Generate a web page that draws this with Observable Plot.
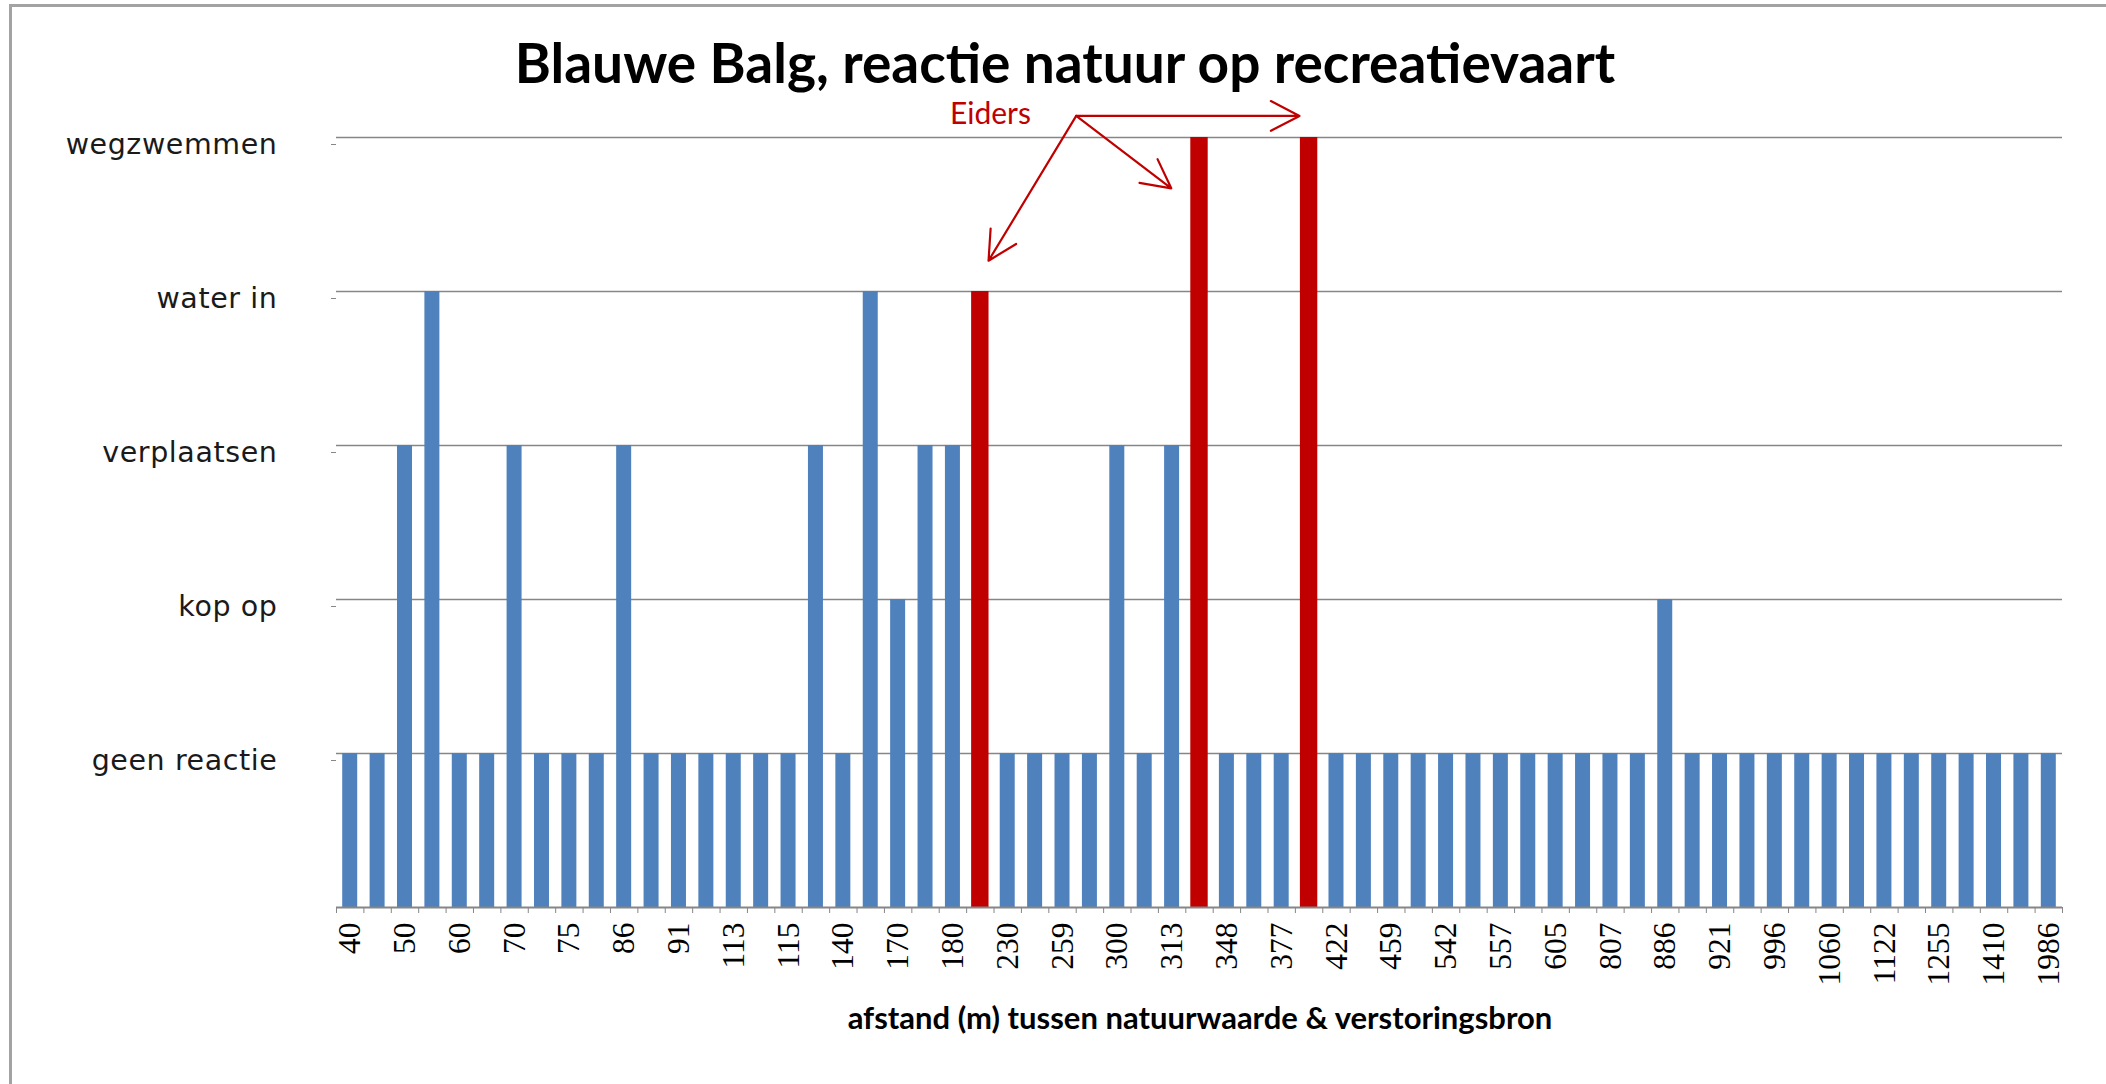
<!DOCTYPE html>
<html>
<head>
<meta charset="utf-8">
<script src="https://cdn.jsdelivr.net/npm/d3@7"></script>
<script src="https://cdn.jsdelivr.net/npm/@observablehq/plot@0.6"></script>
<style>
  html, body { margin: 0; padding: 0; background: #fff; overflow: hidden; }
  #wrap { position: relative; width: 2106px; height: 1084px; overflow: hidden; background: #fff; }
  #frame { position: absolute; left: 9px; top: 4px; width: 2300px; height: 1300px;
           border-top: 3px solid #a3a3a3; border-left: 3px solid #a3a3a3; box-sizing: border-box; }
  #title { position: absolute; left: 1065px; top: 35px; transform: translateX(-50%);
           font-family: Lato, sans-serif; font-weight: 700; font-size: 55px; line-height: 55px;
           white-space: nowrap; color: #000; }
  #chart { position: absolute; left: 0; top: 100px; }
  #xtitle { position: absolute; left: 1200px; top: 1002px; transform: translateX(-50%);
            font-family: Lato, sans-serif; font-weight: 700; font-size: 31px; line-height: 31px;
            white-space: nowrap; color: #000; }
</style>
</head>
<body>
<div id="wrap">
  <div id="frame"></div>
  <div id="title"></div>
  <div id="chart"></div>
  <div id="xtitle"></div>
</div>
<script>
// ---- data ----
const chartTitle = "Blauwe Balg, reactie natuur op recreatievaart";
const xTitle = "afstand (m) tussen natuurwaarde & verstoringsbron";
const reactionLevels = ["geen reactie", "kop op", "verplaatsen", "water in", "wegzwemmen"];
// every second category carries a visible label
const distanceLabels = ["40","50","60","70","75","86","91","113","115","140","170","180",
  "230","259","300","313","348","377","422","459","542","557","605","807","886","921",
  "996","1060","1122","1255","1410","1986"];
// reaction level per observation (1 = geen reactie ... 5 = wegzwemmen), 63 observations
const reactions = [1,1,3,4,1,1,3,1,1,1, 3,1,1,1,1,1,1,3,1,4,
                   2,3,3,4,1,1,1,1,3,1, 3,5,1,1,1,5,1,1,1,1,
                   1,1,1,1,1,1,1,1,2,1, 1,1,1,1,1,1,1,1,1,1,
                   1,1,1];
// observations that are Eiders
const eiderBars = [23, 31, 35];
// annotation
const eiderLabel = [{text: "Eiders", x: 23.37, y: 5.15}];
const eiderArrows = [
  {x1: 26.5, y1: 5.14, x2: 23.3, y2: 4.20},
  {x1: 26.5, y1: 5.14, x2: 29.97, y2: 4.67},
  {x1: 26.5, y1: 5.14, x2: 34.65, y2: 5.14}
];

document.getElementById("title").textContent = chartTitle;
document.getElementById("xtitle").textContent = xTitle;

const data = reactions.map((v, i) => ({i, v, eider: eiderBars.includes(i)}));
const gray = "#868686";

const chart = Plot.plot({
  width: 2106,
  height: 984,
  marginTop: 37,
  marginBottom: 177,
  marginLeft: 336,
  marginRight: 44,
  style: {background: "transparent", overflow: "visible"},
  x: {type: "linear", domain: [-0.5, reactions.length - 0.5]},
  y: {domain: [0, 5]},
  marks: [
    Plot.gridY({ticks: [1, 2, 3, 4, 5], stroke: gray, strokeOpacity: 1, strokeWidth: 1.6}),
    Plot.rect(data.filter(d => !d.eider), {
      x1: d => d.i - 0.5, x2: d => d.i + 0.5, y1: 0, y2: "v",
      fill: "#4f81bd", insetLeft: 6.2, insetRight: 6.2
    }),
    Plot.rect(data.filter(d => d.eider), {
      x1: d => d.i - 0.5, x2: d => d.i + 0.5, y1: 0, y2: "v",
      fill: "#c00000", insetLeft: 5, insetRight: 5
    }),
    Plot.ruleY([0], {stroke: gray, strokeWidth: 2}),
    Plot.axisX({ticks: d3.range(-0.5, reactions.length, 1), tickSize: 6, tickFormat: () => "",
                stroke: gray, label: null}),
    Plot.axisX({ticks: d3.range(0, reactions.length, 2), tickSize: 0, tickPadding: 15, tickRotate: -90,
                tickFormat: i => distanceLabels[i / 2], fontFamily: "Liberation Serif", fontSize: 31.5,
                fill: "#000", label: null}),
    Plot.axisY({ticks: [1, 2, 3, 4, 5], tickSize: 5, tickPadding: 54, tickFormat: d => reactionLevels[d - 1],
                fontFamily: "DejaVu Sans", fontSize: 28.5, fill: "#1a1a1a", stroke: gray, dy: 7, label: null}),
    Plot.arrow(eiderArrows, {x1: "x1", y1: "y1", x2: "x2", y2: "y2", stroke: "#c00000",
                             strokeWidth: 2.2, headLength: 22, headAngle: 55}),
    Plot.text(eiderLabel, {x: "x", y: "y", text: "text", fill: "#c00000", fontSize: 30, fontFamily: "Lato"})
  ]
});
// letter spacing on the y tick labels (style only)
d3.select(chart).selectAll("g[aria-label='y-axis tick label'] text").style("letter-spacing", "0.6px");
document.getElementById("chart").appendChild(chart);
</script>
</body>
</html>
